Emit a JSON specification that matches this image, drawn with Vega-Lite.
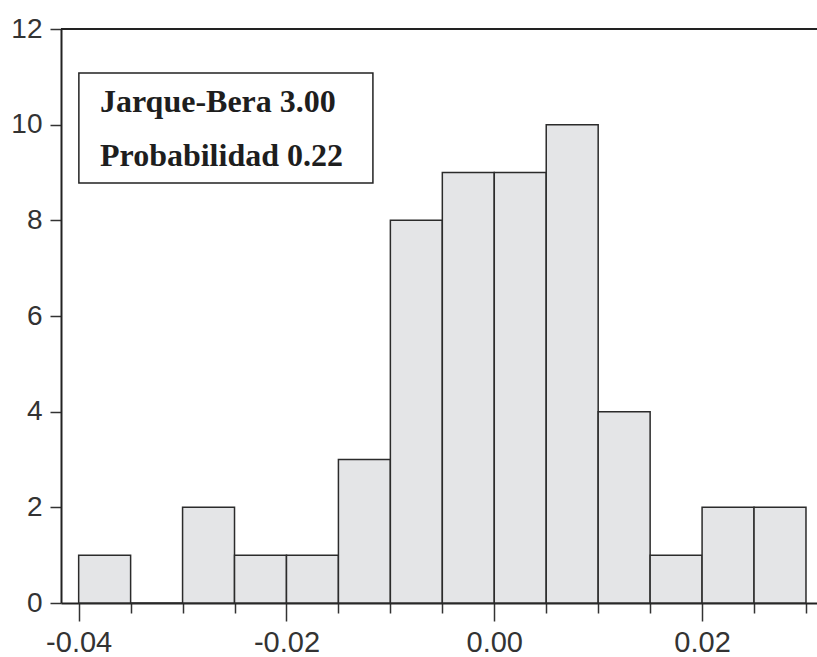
{
  "$schema": "https://vega.github.io/schema/vega-lite/v6.json",
  "autosize": {"type": "none"},
  "padding": {"left": 61, "top": 29, "right": 0, "bottom": 54},
  "width": 756,
  "height": 574,
  "background": "white",
  "config": {"view": {"stroke": null}},
  "data": {"values": [
    {"bin_start": -0.040, "bin_end": -0.035, "count": 1},
    {"bin_start": -0.035, "bin_end": -0.030, "count": 0},
    {"bin_start": -0.030, "bin_end": -0.025, "count": 2},
    {"bin_start": -0.025, "bin_end": -0.020, "count": 1},
    {"bin_start": -0.020, "bin_end": -0.015, "count": 1},
    {"bin_start": -0.015, "bin_end": -0.010, "count": 3},
    {"bin_start": -0.010, "bin_end": -0.005, "count": 8},
    {"bin_start": -0.005, "bin_end": 0.000, "count": 9},
    {"bin_start": 0.000, "bin_end": 0.005, "count": 9},
    {"bin_start": 0.005, "bin_end": 0.010, "count": 10},
    {"bin_start": 0.010, "bin_end": 0.015, "count": 4},
    {"bin_start": 0.015, "bin_end": 0.020, "count": 1},
    {"bin_start": 0.020, "bin_end": 0.025, "count": 2},
    {"bin_start": 0.025, "bin_end": 0.030, "count": 2}
  ]},
  "layer": [
    {
      "mark": {"type": "rect", "fill": "#e4e5e7", "stroke": "#2b2b2b", "strokeWidth": 1.5},
      "encoding": {
        "x": {
          "field": "bin_start", "type": "quantitative",
          "scale": {"domain": [-0.0417, 0.03106], "nice": false, "zero": false},
          "axis": {
            "title": null,
            "grid": false,
            "values": [-0.04, -0.035, -0.03, -0.025, -0.02, -0.015, -0.01, -0.005, 0, 0.005, 0.01, 0.015, 0.02, 0.025, 0.03],
            "domainColor": "#222", "domainWidth": 2,
            "tickColor": "#333", "tickWidth": 1.5,
            "tickSize": {"condition": {"test": "abs(round(datum.value*200)) % 4 == 0", "value": 18}, "value": 10},
            "labelExpr": "abs(round(datum.value*200)) % 4 == 0 ? replace(format(datum.value, '.2f'), '\u2212', '-') : ''",
            "labelFont": "Liberation Sans", "labelFontSize": 29, "labelColor": "#333",
            "labelPadding": 7, "labelFlush": false, "labelOverlap": false
          }
        },
        "x2": {"field": "bin_end"},
        "y": {
          "field": "count", "type": "quantitative",
          "scale": {"domain": [0, 12], "nice": false},
          "axis": {
            "title": null,
            "grid": false,
            "values": [0, 2, 4, 6, 8, 10, 12],
            "domainColor": "#222", "domainWidth": 2,
            "tickColor": "#333", "tickWidth": 1.5, "tickSize": 11,
            "labelFont": "Liberation Sans", "labelFontSize": 28, "labelColor": "#333",
            "labelPadding": 8, "labelFlush": false, "labelOverlap": false
          }
        },
        "y2": {"datum": 0}
      }
    },
    {
      "mark": {"type": "rule", "color": "#222", "strokeWidth": 2},
      "data": {"values": [{"edge": "top"}]},
      "encoding": {"y": {"datum": 12}}
    },
    {
      "data": {"values": [{"note": "stats"}]},
      "layer": [
        {
          "mark": {"type": "rect", "fill": "white", "stroke": "#222", "strokeWidth": 1.5},
          "encoding": {
            "x": {"datum": -0.03998},
            "x2": {"datum": -0.01168},
            "y": {"datum": 11.08},
            "y2": {"datum": 8.78}
          }
        },
        {
          "mark": {
            "type": "text",
            "text": ["Jarque-Bera 3.00", "Probabilidad 0.22"],
            "font": "Liberation Serif", "fontWeight": "bold", "fontSize": 32,
            "color": "#1e1e1e", "align": "left", "baseline": "alphabetic", "lineHeight": 54
          },
          "encoding": {
            "x": {"datum": -0.03795},
            "y": {"datum": 10.27}
          }
        }
      ]
    }
  ]
}
